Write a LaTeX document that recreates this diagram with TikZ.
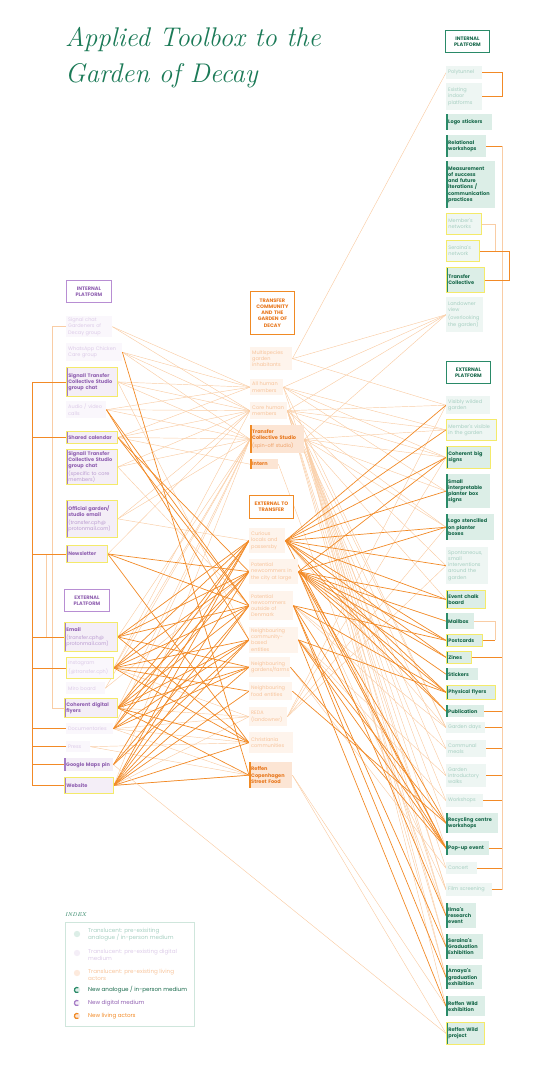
\documentclass[tikz,border=0pt]{standalone}
\usepackage{fontspec}
\newfontfamily\dgfont{Poppins}
\usetikzlibrary{calc}
\definecolor{tgreen}{HTML}{1B7A57}
\definecolor{cGfill}{HTML}{DCEEE7}
\definecolor{cGtr}{HTML}{EEF6F3}
\definecolor{cGtext}{HTML}{17684A}
\definecolor{cGtrtext}{HTML}{A6CFC1}
\definecolor{cGbar}{HTML}{2A8A68}
\definecolor{cYel}{HTML}{F4EA6A}
\definecolor{cPfill}{HTML}{F4EEF7}
\definecolor{cPtr}{HTML}{FAF7FC}
\definecolor{cPtext}{HTML}{8F5FB0}
\definecolor{cPtrtext}{HTML}{DCCBE8}
\definecolor{cPsub}{HTML}{B99AD0}
\definecolor{cPbar}{HTML}{A57CC6}
\definecolor{cPline}{HTML}{B88ED3}
\definecolor{cOfill}{HTML}{FCE5D4}
\definecolor{cOtr}{HTML}{FEF4EC}
\definecolor{cOtext}{HTML}{E8771C}
\definecolor{cOtrtext}{HTML}{F7C39A}
\definecolor{cOsub}{HTML}{EFA066}
\definecolor{cObar}{HTML}{F08A24}
\definecolor{cOdk}{HTML}{F28A26}
\definecolor{cOlt}{HTML}{F9CDA5}
\definecolor{cIx}{HTML}{CFE6DC}
\pgfdeclarelayer{bg}
\pgfsetlayers{bg,main}
\newcommand\psubt{\mdseries\color{cPsub}}
\newcommand\osubt{\mdseries\color{cOsub}}
\newcommand\nd[7]{%
  \pgfmathsetmacro\tw{#5-4}%
  \node[#2, anchor=north west, text width=\tw pt, minimum height=#6pt, minimum width=#5pt] (#1) at (#3,-#4) {#7};}
\tikzset{
  nb/.style={inner xsep=2pt, inner ysep=1.5pt, align=left, font=\dgfont\fontsize{5}{6.2}\selectfont},
  nbb/.style={nb, font=\dgfont\bfseries\fontsize{5}{6.2}\selectfont},
  gsol/.style={nbb, fill=cGfill, text=cGtext, path picture={\fill[cGbar] (path picture bounding box.north west) rectangle ([xshift=1.3pt]path picture bounding box.south west);}},
  gtr/.style={nb, fill=cGtr, text=cGtrtext},
  psol/.style={nbb, fill=cPfill, text=cPtext, path picture={\fill[cPbar] (path picture bounding box.north west) rectangle ([xshift=1.3pt]path picture bounding box.south west);}},
  ptr/.style={nb, fill=cPtr, text=cPtrtext},
  osol/.style={nbb, fill=cOfill, text=cOtext, path picture={\fill[cObar] (path picture bounding box.north west) rectangle ([xshift=1.3pt]path picture bounding box.south west);}},
  otr/.style={nb, fill=cOtr, text=cOtrtext},
  yel/.style={draw=cYel, line width=0.8pt},
  hdr/.style={nbb, align=center, fill=white, line width=0.8pt},
  dk/.style={draw=cOdk, line width=0.7pt},
  lt/.style={draw=cOlt, line width=0.45pt},
  ixt/.style={anchor=west, align=left, inner sep=0pt, font=\dgfont\fontsize{5.6}{7}\selectfont}
}
\begin{document}
\begin{tikzpicture}[x=1pt,y=1pt]
\useasboundingbox (0,0) rectangle (540,-1078);
% title
\node[anchor=base west, inner sep=0pt, font=\itshape\fontsize{27}{30}\selectfont, text=tgreen] (title1) at (65,-47) {Applied Toolbox to the};
\node[anchor=base west, inner sep=0pt, font=\itshape\fontsize{27}{30}\selectfont, text=tgreen] (title2) at (65,-83) {Garden of Decay};

% ---------- right column ----------
\nd{R0}{hdr, draw=cGbar, text=cGtext}{445}{30}{44}{22}{INTERNAL\\PLATFORM}
\nd{R1}{gtr}{446}{66}{36}{13}{Polytunnel}
\nd{R2}{gtr}{446}{83}{36}{27}{Existing\\indoor\\platforms}
\nd{R3}{gsol}{446}{114}{46}{16}{Logo stickers}
\nd{R4}{gsol}{446}{135}{40}{22}{Relational\\workshops}
\nd{R5}{gsol}{446}{161}{49}{47}{Measurement\\of success\\and future\\iterations /\\communication\\practices}
\nd{R6}{gtr,yel}{446}{213}{35}{21}{Member's\\networks}
\nd{R7}{gtr,yel}{446}{240}{33}{21}{Seraina's\\network}
\nd{R8}{gsol,yel}{446}{267}{38}{25}{Transfer\\Collective}
\nd{R9}{gtr}{446}{297}{37}{35}{Landowner\\view\\[2pt](overlooking\\the garden)}

\nd{S0}{hdr, draw=cGbar, text=cGtext}{446}{361}{44}{22}{EXTERNAL\\PLATFORM}
\nd{S1}{gtr}{446}{396}{44}{18}{Visibly wilded\\garden}
\nd{S2}{gtr,yel}{446}{419}{50}{21}{Member's visible\\in the garden}
\nd{S3}{gsol,yel}{446}{446}{44}{22}{Coherent big\\signs}
\nd{S4}{gsol}{446}{474}{44}{34}{Small\\interpretable\\planter box\\signs}
\nd{S5}{gsol}{446}{514}{48}{26}{Logo stencilled\\on planter\\boxes}
\nd{S6}{gtr}{446}{547}{42}{37}{Spontaneous,\\small\\interventions\\around the\\garden}
\nd{S7}{gsol,yel}{446}{590}{39}{18}{Event chalk\\board}
\nd{S8}{gsol}{446}{613}{28}{16}{Mailbox}
\nd{S9}{gsol,yel}{446}{634}{36}{12}{Postcards}
\nd{S10}{gsol,yel}{446}{651}{25}{12}{Zines}
\nd{S11}{gsol}{446}{668}{32}{12}{Stickers}
\nd{S12}{gsol,yel}{446}{685}{49}{14}{Physical flyers}
\nd{S13}{gsol}{446}{705}{38}{12}{Publication}
\nd{S14}{gtr}{446}{722}{39}{11}{Garden days}
\nd{S15}{gtr}{446}{740}{40}{17}{Communal\\meals}
\nd{S16}{gtr}{446}{764}{40}{23}{Garden\\introductory\\walks}
\nd{S17}{gtr}{446}{794}{37}{13}{Workshops}
\nd{S18}{gsol}{446}{813}{52}{20}{Recycling centre\\workshops}
\nd{S19}{gsol}{446}{841}{43}{14}{Pop-up event}
\nd{S20}{gtr}{446}{862}{31}{12}{Concert}
\nd{S21}{gtr}{446}{883}{46}{13}{Film screening}
\nd{S22}{gsol}{446}{903}{30}{25}{Ilma's\\research\\event}
\nd{S23}{gsol}{446}{934}{37}{25}{Seraina's\\Graduation\\Exhibition}
\nd{S24}{gsol}{446}{965}{36}{24}{Amaya's\\graduation\\exhibition}
\nd{S25}{gsol}{446}{996}{39}{20}{Reffen Wild\\exhibition}
\nd{S26}{gsol,yel}{446}{1022}{38}{22}{Reffen Wild\\project}

% ---------- left column ----------
\nd{P0}{hdr, draw=cPline, text=cPtext}{66}{280}{45}{22}{INTERNAL\\PLATFORM}
\nd{L1}{ptr}{66}{316}{46}{21}{Signal chat\\Gardeners of\\Decay group}
\nd{L2}{ptr}{66}{343}{56}{18}{WhatsApp Chicken\\Care group}
\nd{L3}{psol,yel}{66}{367}{51}{29}{Signall Transfer\\Collective Studio\\group chat}
\nd{L4}{ptr}{66}{401}{40}{17}{Audio / video\\calls}
\nd{L5}{psol,yel}{66}{431}{51}{12}{Shared calendar}
\nd{L6}{psol,yel}{66}{449}{51}{35}{Signall Transfer\\Collective Studio\\group chat\\[2pt]{\psubt (specific to core}\\{\psubt members)}}
\nd{L7}{psol,yel}{66}{500}{51}{37}{Official garden/\\studio email\\[2pt]{\psubt (transfer.cph@}\\{\psubt protonmail.com)}}
\nd{L8}{psol,yel}{66}{545}{41}{17}{Newsletter}
\nd{Q0}{hdr, draw=cPline, text=cPtext}{64}{589}{45}{22}{EXTERNAL\\PLATFORM}
\nd{L9}{psol,yel}{64}{622}{53}{29}{Email\\[2pt]{\psubt (transfer.cph@}\\{\psubt protonmail.com)}}
\nd{L10}{ptr,yel}{66}{657}{47}{21}{Instagram\\[2pt](@transfer.cph)}
\nd{L11}{ptr}{66}{682}{39}{12}{Miro board}
\nd{L12}{psol,yel}{64}{698}{53}{19}{Coherent digital\\flyers}
\nd{L13}{ptr}{66}{723}{47}{11}{Documentaries}
\nd{L14}{ptr}{66}{741}{24}{11}{Press}
\nd{L15}{psol}{64}{758}{49}{13}{Google Maps pin}
\nd{L16}{psol,yel}{64}{777}{49}{16}{Website}

% ---------- middle column ----------
\nd{T0}{hdr, draw=cObar, text=cOtext}{250}{291}{44}{43}{TRANSFER\\COMMUNITY\\AND THE\\GARDEN OF\\DECAY}
\nd{M1}{otr}{250}{347}{42}{23}{Multispecies\\garden\\inhabitants}
\nd{M2}{otr}{250}{379}{33}{16}{All human\\members}
\nd{M3}{otr}{250}{402}{37}{17}{Core human\\members}
\nd{M4}{osol}{250}{425}{54}{28}{Transfer\\Collective Studio\\[2pt]{\osubt (spin-off studio)}}
\nd{M5}{osol}{250}{459}{28}{10}{Intern}
\nd{U0}{hdr, draw=cObar, text=cOtext}{249}{495}{44}{23}{EXTERNAL TO\\TRANSFER}
\nd{E1}{otr}{249}{528}{36}{25}{Curious\\locals and\\passersby}
\nd{E2}{otr}{249}{559}{49}{25}{Potential\\newcommers in\\the city at large}
\nd{E3}{otr}{249}{591}{44}{29}{Potential\\newcommers\\outside of\\Denmark}
\nd{E4}{otr}{249}{627}{49}{19}{Neighbouring\\community-based\\entities}
\nd{E5}{otr}{249}{657}{41}{20}{Neighbouring\\gardens/farms}
\nd{E6}{otr}{249}{682}{43}{18}{Neighbouring\\food entities}
\nd{E7}{otr}{249}{707}{38}{19}{REDA\\(landowner)}
\nd{E8}{otr}{249}{732}{44}{21}{Christiania\\communities}
\nd{E9}{osol}{249}{762}{43}{26}{Reffen\\Copenhagen\\Street Food}

% ---------- index ----------
\node[anchor=west, inner sep=0pt, font=\itshape\fontsize{5.5}{6}\selectfont, text=tgreen] (ixtitle) at (65,-915) {INDEX};
\node[draw=cIx, line width=0.8pt, anchor=north west, minimum width=129pt, minimum height=104pt, inner sep=0pt] (ixbox) at (65,-922) {};
\node[ixt, text=cGtrtext] (ix1) at (88,-934.5) {Translucent: pre-exisiting\\analogue / in-person medium};
\node[ixt, text=cPtrtext] (ix2) at (88,-954.5) {Translucent: pre-existing digital\\medium};
\node[ixt, text=cOtrtext] (ix3) at (88,-974.5) {Translucent: pre-existing living\\actors};
\node[ixt, text=cGtext] (ix4) at (88,-990) {New analogue / in-person medium};
\node[ixt, text=cPtext] (ix5) at (88,-1003) {New digital medium};
\node[ixt, text=cOdk] (ix6) at (88,-1016) {New living actors};
\fill[cGfill] (77,-934) circle (3.2pt);
\fill[cPfill] (77,-953) circle (3.2pt);
\fill[cOfill!80!white] (77,-973) circle (3.2pt);
\fill[cGfill] (77,-990) circle (3.2pt);
\draw[cGbar, line width=1.2pt] (77,-990) ++(60:2.6pt) arc[start angle=60, end angle=300, radius=2.6pt];
\fill[cPfill] (77,-1003) circle (3.2pt);
\draw[cPbar, line width=1.2pt] (77,-1003) ++(60:2.6pt) arc[start angle=60, end angle=300, radius=2.6pt];
\fill[cOfill] (77,-1016) circle (3.2pt);
\draw[cObar, line width=1.2pt] (77,-1016) ++(60:2.6pt) arc[start angle=60, end angle=300, radius=2.6pt];

% ---------- connectors ----------
\begin{pgfonlayer}{bg}
\coordinate (lbx) at (32,0);
\coordinate (lbx2) at (52,0);
\coordinate (lbx3) at (46,0);
\coordinate (rb1) at (502,0);
\coordinate (rb2) at (495,0);
\coordinate (rb3) at (509,0);
% left brackets
\draw[lt] (L1.west -| lbx2) -- (L12.west -| lbx2);
\draw[lt] (L1.west -| lbx2) -- (L1.west);
\draw[lt] (L12.west -| lbx2) -- (L12.west);
\draw[lt] (L8.west -| lbx3) -- (L9.west -| lbx3);
\draw[dk] (L3.west -| lbx) -- (L16.west -| lbx);
\foreach \n in {L3,L5,L8,L9,L10,L13,L14,L15,L16} \draw[dk] (\n.west -| lbx) -- (\n.west);
% right brackets
\draw[dk] (R1.east) -- (R1.east -| rb1) -- (R2.east -| rb1) -- (R2.east);
\draw[lt] (R4.east -| rb1) -- (S21.east -| rb1);
\foreach \n in {R4,S10,S13,S14,S15,S16,S17,S19,S20,S21} \draw[dk] (\n.east) -- (\n.east -| rb1);
\draw[lt] (R6.east) -| (R7.east -| rb2);
\draw[dk] (R7.east) -- (R7.east -| rb3) -- (R8.east -| rb3) -- (R8.east);
\draw[lt] (S8.east) -| (S9.east -| rb2);
\draw[dk] (S9.east) -- (S9.east -| rb2);
% left -> middle (light)
\foreach \a/\b in {L1/M2,L1/M3,L2/M2,L2/M3,L2/M4,L3/M2,L3/M3,L3/M4,L4/M2,L4/M3,L4/M4,L5/M2,L5/M3,L5/M4,L5/M5,L6/M3,L6/M4,L7/M3,L7/M4,L8/M3,L9/M4,L10/M3,L10/M4,L11/M4,L12/M4,L13/M4,L16/M4,L7/E1,L6/E3,L3/E4,L16/E7,L13/E7,L14/E8,L14/E9,L13/E9,L10/E7,L12/E7,L16/E9,L11/E2,L13/E8}
  \draw[lt] (\a.east) -- (\b.west);
% left -> middle (dark)
\foreach \a/\b in {L2/E9,L4/E3,L4/E4,L5/E2,L5/E3,L8/E2,L8/E3,L8/E8,L9/E1,L9/E2,L9/E3,L9/E5,L9/E8,L10/E1,L10/E2,L10/E3,L10/E4,L10/E5,L10/E6,L10/E8,L12/E1,L12/E2,L12/E3,L12/E4,L12/E5,L12/E8,L12/E9,L13/E1,L13/E2,L13/E4,L13/E5,L15/E1,L15/E3,L15/E4,L16/E1,L16/E2,L16/E3,L16/E4,L16/E5,L16/E6,L16/E8,L16/E9}
  \draw[dk] (\a.east) -- (\b.west);
\draw[lt] (L15.east) -- (S26.west);
% middle -> right (light)
\foreach \a/\b in {M1/R1,M1/R9,M1/S1,M2/R9,M2/S2,M2/S3,M2/S4,M3/R9,M3/S1,M3/S2,M3/S3,M3/S5,M3/S6,M4/R9,M4/S2,M4/S3,M4/S4,M4/S5,M4/S7,M3/S15,M3/S16,M3/S17,M4/S14,M4/S18,M4/S19,M4/S20,M4/S21,M4/S22,M4/S23,M4/S24,M4/S25,M3/S22,M3/S23,M3/S24,M2/S14,M2/S21,M5/S22,E7/S1,E7/S3,E7/S6,E7/S5,E9/S25,E9/S26,E3/S14,E3/S15,E4/S16,E4/S17,E5/S20,E2/S21,E1/S14}
  \draw[lt] (\a.east) -- (\b.west);
% middle -> right (dark)
\foreach \a/\b in {E1/S1,E1/S2,E1/S3,E1/S4,E1/S5,E1/S6,E1/S7,E1/S9,E1/S10,E1/S12,E1/S19,E1/S13,E2/S3,E2/S5,E2/S7,E2/S8,E2/S9,E2/S10,E2/S11,E2/S12,E2/S18,E2/S19,E2/S22,E2/S13,E3/S9,E3/S12,E3/S19,E3/S23,E3/S24,E4/S12,E4/S18,E4/S19,E4/S25,E5/S19,E6/S18}
  \draw[dk] (\a.east) -- (\b.west);
\end{pgfonlayer}
\end{tikzpicture}
\end{document}
